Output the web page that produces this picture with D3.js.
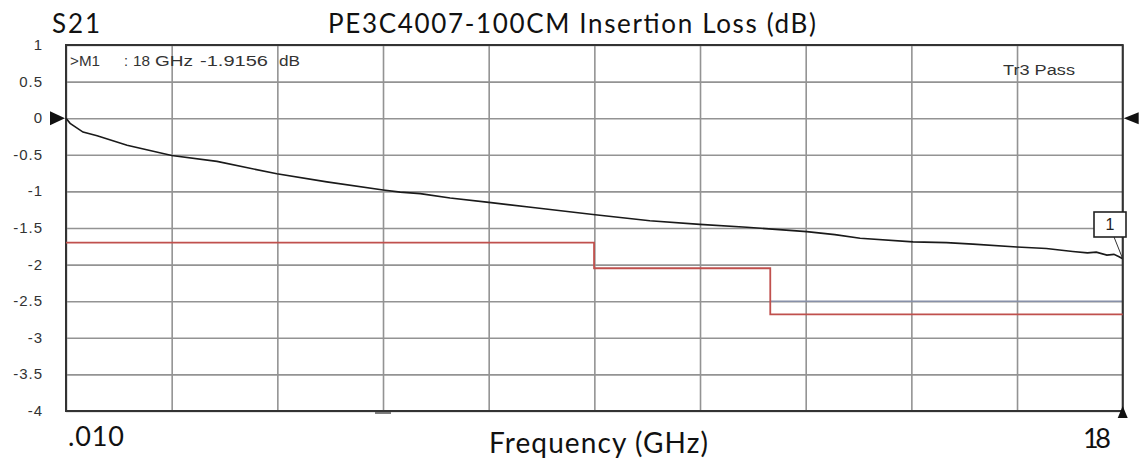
<!DOCTYPE html>
<html>
<head>
<meta charset="utf-8">
<script src="https://cdn.jsdelivr.net/npm/d3@7"></script>
<style>
  body { margin: 0; background: #fff; }
  svg { display: block; }
</style>
</head>
<body>
<script>
// trace (GHz, dB)
const freqs = [0.01, 0.08, 0.30, 0.54, 1.05, 1.81, 2.58, 3.60, 4.45, 5.41, 5.70, 6.04, 6.55, 7.21, 7.96,
  9.02, 9.95, 10.80, 11.60, 12.62, 13.10, 13.53, 14.43, 15.00, 15.45, 16.20, 16.70, 17.15, 17.40, 17.55,
  17.73, 17.85, 17.93, 18.0];
const loss = [0, -0.07, -0.19, -0.24, -0.37, -0.51, -0.59, -0.76, -0.87, -0.98, -1.01, -1.03, -1.09, -1.15, -1.22,
  -1.32, -1.40, -1.45, -1.49, -1.55, -1.59, -1.64, -1.69, -1.70, -1.72, -1.76, -1.78, -1.82, -1.84, -1.83,
  -1.87, -1.86, -1.89, -1.92];

// limit line steps
const limFreq = [0.01, 9, 12, 18];
const limVal = [-1.7, -2.05, -2.68, -2.68];

const yTicks = [1, 0.5, 0, -0.5, -1, -1.5, -2, -2.5, -3, -3.5, -4];
const yLabels = ["1", "0.5", "0", "-0.5", "-1", "-1.5", "-2", "-2.5", "-3", "-3.5", "-4"];
const xLabels = [".010", "18"];

const W = 1139, H = 459;
const pL = 66, pR = 1122.7, pT = 45, pB = 411;

const svg = d3.select("body").append("svg")
    .attr("width", W)
    .attr("height", H);

const x = d3.scaleLinear().domain([0.01, 18]).range([pL, pR]);
const y = d3.scaleLinear().domain([-4, 1]).range([pB, pT]);

const small = "'Liberation Sans', Arial, sans-serif";
const big = "Lato, 'Open Sans', sans-serif";

// horizontal grid + labels
const yAxis = d3.axisLeft(y)
    .tickValues(yTicks)
    .tickSize(-(pR - pL))
    .tickPadding(23)
    .tickFormat((d, i) => yLabels[i]);
const gy = svg.append("g")
    .attr("transform", "translate(" + pL + ",0)")
    .call(yAxis);
gy.select(".domain").remove();
gy.selectAll("line").attr("stroke", "#939393").attr("stroke-width", 1.6);
gy.selectAll("text")
    .attr("fill", "#333")
    .attr("dy", "0.3em")
    .style("font-family", small)
    .style("font-size", "15px")
    .style("letter-spacing", "1px");

// vertical grid: 10 divisions
const xGrid = d3.range(11).map(i => 0.01 + i * (18 - 0.01) / 10);
const xAxis = d3.axisBottom(x)
    .tickValues(xGrid)
    .tickSize(-(pB - pT))
    .tickFormat("");
const gx = svg.append("g")
    .attr("transform", "translate(0," + pB + ")")
    .call(xAxis);
gx.select(".domain").remove();
gx.selectAll("line").attr("stroke", "#939393").attr("stroke-width", 1.6);

// bluish second limit at -2.5 above 12 GHz
svg.append("line")
    .attr("x1", x(12)).attr("x2", x(18))
    .attr("y1", y(-2.5)).attr("y2", y(-2.5))
    .attr("stroke", "#8790a8")
    .attr("stroke-width", 1.6);

// frame
svg.append("rect")
    .attr("x", pL).attr("y", pT)
    .attr("width", pR - pL).attr("height", pB - pT)
    .attr("fill", "none")
    .attr("stroke", "#333")
    .attr("stroke-width", 2);

// small dash under the 4th division
svg.append("line")
    .attr("x1", x(xGrid[3]) - 8).attr("x2", x(xGrid[3]) + 8)
    .attr("y1", pB + 2).attr("y2", pB + 2)
    .attr("stroke", "#555").attr("stroke-width", 1.5);

// limit line
const lim = limFreq.map((f, i) => ({ f: f, v: limVal[i] }));
svg.append("path")
    .datum(lim)
    .attr("fill", "none")
    .attr("stroke", "#c0504d")
    .attr("stroke-width", 1.8)
    .attr("d", d3.line().x(d => x(d.f)).y(d => y(d.v)).curve(d3.curveStepAfter));

// trace
const trace = freqs.map((f, i) => ({ f: f, v: loss[i] }));
svg.append("path")
    .datum(trace)
    .attr("fill", "none")
    .attr("stroke", "#1a1a1a")
    .attr("stroke-width", 1.6)
    .attr("d", d3.line().x(d => x(d.f)).y(d => y(d.v)));

// reference triangles
svg.append("path")
    .attr("d", "M" + (pL - 16) + "," + (y(0) - 7) + "L" + (pL - 1) + "," + y(0) + "L" + (pL - 16) + "," + (y(0) + 7) + "Z")
    .attr("fill", "#111");
svg.append("path")
    .attr("d", "M" + (pR + 16) + "," + (y(0) - 6) + "L" + (pR + 1) + "," + y(0) + "L" + (pR + 16) + "," + (y(0) + 6) + "Z")
    .attr("fill", "#111");
svg.append("path")
    .attr("d", "M" + (pR - 5) + "," + (pB + 7) + "L" + pR + "," + (pB - 5) + "L" + (pR + 5) + "," + (pB + 7) + "Z")
    .attr("fill", "#111");

// marker 1
const mx = x(18), my = y(loss[loss.length - 1]);
svg.append("line")
    .attr("x1", 1114).attr("y1", 237)
    .attr("x2", mx).attr("y2", my)
    .attr("stroke", "#333").attr("stroke-width", 1);
svg.append("rect")
    .attr("x", 1094).attr("y", 212)
    .attr("width", 32).attr("height", 25)
    .attr("fill", "#fff")
    .attr("stroke", "#222").attr("stroke-width", 1.6);
svg.append("text")
    .attr("x", 1110).attr("y", 230)
    .attr("text-anchor", "middle")
    .style("font-family", small)
    .style("font-size", "16px")
    .attr("fill", "#222")
    .text("1");

// in-plot annotations
const note = [
  { t: ">M1", x: 70, w: 30 },
  { t: ":", x: 124, w: 4 },
  { t: "18", x: 133, w: 17 },
  { t: "GHz", x: 155, w: 38 },
  { t: "-1.9156", x: 200, w: 68 },
  { t: "dB", x: 279, w: 21 }
];
svg.selectAll(".note")
    .data(note)
    .enter().append("text")
    .attr("class", "note")
    .attr("x", d => d.x).attr("y", 65.5)
    .attr("textLength", d => d.w)
    .attr("lengthAdjust", "spacingAndGlyphs")
    .style("font-family", small)
    .style("font-size", "15.5px")
    .attr("fill", "#333")
    .text(d => d.t);
svg.append("text")
    .attr("x", 1003).attr("y", 75)
    .attr("textLength", 72)
    .attr("lengthAdjust", "spacingAndGlyphs")
    .style("font-family", small)
    .style("font-size", "15.5px")
    .attr("fill", "#333")
    .text("Tr3 Pass");

// titles
function label(t, xx, yy, size, len, anchor) {
  svg.append("text")
      .attr("x", xx).attr("y", yy)
      .attr("text-anchor", anchor || "start")
      .attr("textLength", len)
      .style("font-family", big).style("font-size", size + "px")
      .attr("fill", "#111")
      .text(t);
}
label("S21", 52, 32.5, 26, 48);
label("PE3C4007-100CM Insertion Loss (dB)", 328, 33, 26, 488);
label(xLabels[0], 68, 446, 27, 56);
label(xLabels[1], 1083, 448, 27, 28);
label("Frequency (GHz)", 489, 453, 28, 219);
</script>
</body>
</html>
